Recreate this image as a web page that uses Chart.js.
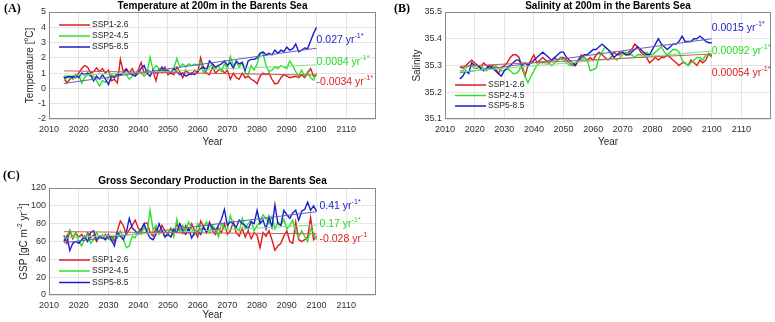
<!DOCTYPE html>
<html lang="en">
<head>
<meta charset="UTF-8">
<title>Barents Sea projections</title>
<script src="https://cdn.jsdelivr.net/npm/chart.js"></script>
<style>
  body { margin: 0; background: #fff; }
  #wrap { position: relative; width: 775px; height: 322px; overflow: hidden; }
  canvas { position: absolute; }
</style>
</head>
<body>
<div id="wrap">
  <canvas id="chartA" width="390" height="160" style="left:0;top:0"></canvas>
  <canvas id="chartB" width="385" height="160" style="left:390px;top:0"></canvas>
  <canvas id="chartC" width="390" height="162" style="left:0;top:160px"></canvas>
</div>

<script>
// years 2015..2100 and decade ticks
const years = Array.from({ length: 86 }, (_, i) => 2015 + i);
const xTicks = [2010, 2020, 2030, 2040, 2050, 2060, 2070, 2080, 2090, 2100, 2110];
const scenarios = ['SSP1-2.6', 'SSP2-4.5', 'SSP5-8.5'];

// (A) temperature at 200 m, degC
const tempSSP126 = [
  0.8, 0.35, 0.6, 0.8, 0.7, 1.0, 1.3, 1.5, 1.4, 1.0,
  1.1, 1.35, 1.1, 1.3, 1.0, 1.2, 0.5, 0.6, 0.35, 1.9,
  1.1, 1.3, 1.0, 1.3, 0.9, 1.2, 1.7, 1.0, 1.2, 1.1,
  1.1, 0.5, 1.3, 1.1, 1.4, 0.9, 1.0, 0.9, 1.4, 1.1,
  0.7, 1.2, 1.0, 0.9, 1.2, 1.0, 2.0, 1.3, 1.0, 0.9,
  1.4, 1.0, 1.2, 1.3, 1.0, 1.2, 0.6, 1.0, 0.7, 0.6,
  1.0, 0.7, 0.8, 0.6, 0.5, 0.3, 0.8, 1.0, 0.9, 1.0,
  0.6, 0.3, 0.35, 0.7, 0.9, 0.8, 0.7, 0.75, 0.8, 0.7,
  0.9, 0.7, 1.0, 1.3, 0.8, 0.9
];
const tempSSP245 = [
  0.5, 0.7, 0.75, 0.6, 0.8, 0.9, 0.35, 0.7, 0.9, 0.8,
  0.8, 0.5, 0.15, 0.5, 0.4, 0.7, 0.9, 0.8, 1.0, 0.9,
  1.0, 0.9, 0.6, 0.8, 1.0, 1.1, 1.0, 0.8, 1.0, 2.05,
  1.2, 1.5, 1.3, 1.0, 1.2, 1.1, 1.1, 1.3, 1.95, 1.4,
  1.6, 1.4, 1.6, 1.5, 1.6, 1.5, 1.7, 1.0, 1.3, 1.4,
  1.6, 1.3, 1.5, 1.1, 1.6, 1.3, 2.1, 1.5, 1.7, 1.4,
  1.7, 1.0, 0.9, 1.5, 1.2, 1.6, 2.3, 2.3, 1.5, 1.1,
  1.2, 1.4, 1.3, 1.5, 1.4, 1.3, 1.8, 1.5, 1.1, 0.8,
  1.2, 0.8, 1.1, 0.7, 0.55, 1.0
];
const tempSSP585 = [
  0.7, 0.75, 0.8, 0.7, 0.9, 0.7, 1.0, 0.9, 1.0, 0.9,
  0.5, 0.8, 0.6, 0.9, 0.6, 0.25, 0.8, 0.7, 0.9, 0.9,
  1.0, 1.25, 1.0, 0.9, 0.8, 1.0, 1.3, 1.5, 1.0, 0.8,
  1.2, 1.0, 1.1, 1.4, 1.1, 1.2, 1.0, 1.3, 1.1, 0.9,
  1.0, 0.8, 0.9, 1.0, 0.9, 1.1, 1.3, 1.4, 1.2, 1.8,
  1.6, 1.4, 1.5, 1.6, 1.8, 1.5, 1.7, 1.3, 1.8, 1.6,
  1.7, 1.2, 1.8, 1.9, 1.9, 2.0, 2.3, 2.4, 2.2, 2.3,
  2.2, 2.5, 2.3, 2.5, 2.4, 2.7, 2.5, 2.6, 2.9, 2.4,
  2.5, 2.65, 2.6, 3.1, 3.6, 4.0
];
// fitted trend, value at 2015 and at 2100
const tempTrendStart = [1.15, 0.83, 0.33];
const tempTrendEnd = [0.87, 1.54, 2.63];
const tempSlopes = ['-0.0034', '0.0084', '0.027'];
const tempSignif = [true, true, true];

// (B) salinity at 200 m
const salSSP126 = [
  35.295, 35.29, 35.30, 35.31, 35.32, 35.31, 35.30, 35.29, 35.31, 35.30,
  35.29, 35.30, 35.29, 35.27, 35.29, 35.30, 35.31, 35.33, 35.34, 35.34,
  35.33, 35.29, 35.26, 35.30, 35.32, 35.34, 35.31, 35.32, 35.33, 35.32,
  35.31, 35.32, 35.33, 35.32, 35.33, 35.33, 35.32, 35.31, 35.30, 35.30,
  35.32, 35.34, 35.33, 35.32, 35.33, 35.32, 35.34, 35.35, 35.34, 35.33,
  35.32, 35.33, 35.35, 35.34, 35.34, 35.35, 35.34, 35.35, 35.36, 35.38,
  35.37, 35.35, 35.34, 35.33, 35.31, 35.32, 35.33, 35.32, 35.33, 35.33,
  35.34, 35.33, 35.32, 35.31, 35.30, 35.31, 35.31, 35.30, 35.32, 35.31,
  35.30, 35.32, 35.31, 35.32, 35.345, 35.335
];
const salSSP245 = [
  35.28, 35.28, 35.29, 35.30, 35.30, 35.29, 35.29, 35.30, 35.29, 35.28,
  35.29, 35.29, 35.30, 35.29, 35.28, 35.28, 35.29, 35.28, 35.27, 35.27,
  35.28, 35.31, 35.26, 35.235, 35.26, 35.28, 35.30, 35.31, 35.31, 35.31,
  35.31, 35.30, 35.31, 35.32, 35.33, 35.32, 35.31, 35.30, 35.30, 35.31,
  35.32, 35.32, 35.33, 35.32, 35.28, 35.285, 35.29, 35.33, 35.35, 35.37,
  35.36, 35.34, 35.33, 35.32, 35.33, 35.34, 35.35, 35.34, 35.34, 35.33,
  35.34, 35.34, 35.33, 35.35, 35.34, 35.34, 35.35, 35.36, 35.37, 35.35,
  35.34, 35.35, 35.36, 35.36, 35.35, 35.32, 35.31, 35.30, 35.31, 35.32,
  35.33, 35.33, 35.32, 35.34, 35.34, 35.33
];
const salSSP585 = [
  35.25, 35.26, 35.28, 35.27, 35.31, 35.30, 35.30, 35.29, 35.28, 35.29,
  35.30, 35.29, 35.28, 35.27, 35.26, 35.28, 35.29, 35.30, 35.31, 35.32,
  35.32, 35.30, 35.31, 35.30, 35.31, 35.32, 35.33, 35.34, 35.35, 35.34,
  35.33, 35.32, 35.33, 35.34, 35.35, 35.35, 35.33, 35.32, 35.31, 35.30,
  35.32, 35.33, 35.34, 35.34, 35.35, 35.36, 35.36, 35.37, 35.38, 35.37,
  35.36, 35.35, 35.33, 35.34, 35.35, 35.35, 35.34, 35.34, 35.35, 35.36,
  35.37, 35.36, 35.35, 35.34, 35.34, 35.36, 35.38, 35.40, 35.38, 35.37,
  35.36, 35.37, 35.38, 35.38, 35.39, 35.41, 35.39, 35.39, 35.39, 35.40,
  35.40, 35.41, 35.40, 35.39, 35.385, 35.385
];
const salTrendStart = [35.297, 35.276, 35.273];
const salTrendEnd = [35.343, 35.354, 35.400];
const salSlopes = ['0.00054', '0.00092', '0.0015'];
const salSignif = [true, true, true];

// (C) gross secondary production, gC m-2 yr-1
const gspSSP126 = [
  67, 58, 72, 63, 70, 65, 68, 62, 70, 64,
  67, 60, 66, 64, 68, 63, 66, 60, 72, 83,
  78, 68, 73, 78, 84, 75, 72, 80, 81, 70,
  66, 75, 70, 78, 72, 68, 75, 70, 80, 72,
  69, 78, 70, 80, 72, 65, 83, 77, 70, 82,
  72, 68, 75, 70, 80, 68, 72, 82, 70, 66,
  75, 65, 72, 63, 70, 67, 53, 70, 66, 72,
  62, 50, 55, 58, 66, 72, 60, 58, 82, 62,
  60, 62, 65, 87, 62, 66
];
const gspSSP245 = [
  62, 66, 73, 65, 70, 60, 55, 63, 68, 58,
  62, 70, 64, 68, 62, 65, 60, 66, 64, 72,
  63, 53, 55, 66, 64, 72, 68, 76, 70, 95,
  73, 78, 68, 72, 66, 70, 74, 65, 85, 70,
  78, 72, 82, 74, 68, 80, 73, 77, 82, 70,
  78, 74, 65, 80, 76, 73, 89, 78, 75, 72,
  86, 74, 80, 84, 72, 78, 82, 90, 86, 80,
  88, 74, 82, 78, 85, 74, 78, 84, 70, 65,
  72, 66, 60, 74, 70, 62
];
const gspSSP585 = [
  60, 66, 50, 58, 60, 58, 62, 66, 60, 70,
  72, 62, 66, 64, 62, 68, 62, 55, 70, 66,
  62, 70, 86, 75, 72, 68, 74, 80, 70, 64,
  62, 68, 80, 72, 65, 68, 65, 74, 70, 80,
  72, 68, 74, 64, 70, 72, 68, 76, 70, 80,
  75, 72, 78, 85, 96, 78, 82, 80, 76, 84,
  80, 78, 74, 82, 80, 95, 80, 84, 74, 88,
  76, 101, 80, 78, 95, 90, 86, 92, 95, 84,
  94, 96, 104, 95, 100, 94
];
const gspTrendStart = [71, 64, 58.5];
const gspTrendEnd = [68.6, 78.5, 93.4];
const gspSlopes = ['-0.028', '0.17', '0.41'];
const gspSignif = [false, true, true];

const FONT = '"Liberation Sans", Arial, sans-serif';
const lineColors = ['#e01b1b', '#2ee02e', '#1c1cd0'];
const trendColors = ['#c85a5a', '#7de07d', '#6262b4'];
const labelColors = ['#dd2020', '#22dd22', '#2424c8'];

// draw text with superscript parts, parts starting with ^ are raised
function richWidth(ctx, parts, size) {
  let w = 0;
  parts.forEach(p => {
    const sup = p.startsWith('^');
    ctx.font = (sup ? size * 0.68 : size) + 'px ' + FONT;
    w += ctx.measureText(sup ? p.slice(1) : p).width;
  });
  return w;
}
function drawRich(ctx, parts, x, y, size) {
  let cx = x;
  parts.forEach(p => {
    const sup = p.startsWith('^');
    const t = sup ? p.slice(1) : p;
    ctx.font = (sup ? size * 0.68 : size) + 'px ' + FONT;
    ctx.fillText(t, cx, sup ? y - size * 0.38 : y);
    cx += ctx.measureText(t).width;
  });
}

const panelText = {
  id: 'panelText',
  afterDraw(chart, args, o) {
    const ctx = chart.ctx;
    const a = chart.chartArea;
    const xs = chart.scales.x, ys = chart.scales.y;
    ctx.save();
    ctx.strokeStyle = '#8a8a8a';
    ctx.lineWidth = 1;
    ctx.strokeRect(Math.round(a.left) + 0.5, Math.round(a.top) + 0.5,
      Math.round(a.right - a.left) - 1, Math.round(a.bottom - a.top) - 1);

    ctx.textBaseline = 'middle';
    ctx.fillStyle = '#000';
    ctx.textAlign = 'center';
    ctx.font = 'bold 10px ' + FONT;
    ctx.fillText(o.title, (a.left + a.right) / 2, o.titleY);

    ctx.textAlign = 'left';
    ctx.font = 'bold 12px "Liberation Serif", "Times New Roman", serif';
    ctx.fillText(o.letter, o.letterX, o.letterY);

    ctx.fillStyle = '#262626';
    ctx.textAlign = 'center';
    ctx.font = '10px ' + FONT;
    ctx.fillText('Year', (a.left + a.right) / 2, o.yearY);

    // y axis title, rotated
    ctx.save();
    ctx.translate(o.yTitleX, (a.top + a.bottom) / 2);
    ctx.rotate(-Math.PI / 2);
    ctx.textAlign = 'left';
    const w = richWidth(ctx, o.yTitle, 10);
    drawRich(ctx, o.yTitle, -w / 2, 0, 10);
    ctx.restore();

    // legend, no box
    ctx.textAlign = 'left';
    scenarios.forEach((name, i) => {
      const y = o.legendY[i];
      ctx.strokeStyle = lineColors[i];
      ctx.lineWidth = 1.5;
      ctx.beginPath();
      ctx.moveTo(o.legendX, y);
      ctx.lineTo(o.legendX + 31, y);
      ctx.stroke();
      ctx.fillStyle = '#262626';
      ctx.font = '8.5px ' + FONT;
      ctx.fillText(name, o.legendX + 33, y);
    });

    // slope labels next to the trend ends
    o.slopes.forEach((s, i) => {
      ctx.fillStyle = labelColors[i];
      const parts = [s + ' yr', '^-1'];
      if (o.signif[i]) parts.push('^*');
      drawRich(ctx, parts, xs.getPixelForValue(o.labelX), ys.getPixelForValue(o.labelY[i]), 10.5);
    });
    ctx.restore();
  }
};

function series(vals) {
  return years.map((yr, i) => ({ x: yr, y: vals[i] }));
}

function makePanel(id, vals, tStart, tEnd, cfg) {
  const datasets = [];
  vals.forEach((v, i) => {
    datasets.push({
      data: series(v), borderColor: lineColors[i], borderWidth: 1.4,
      pointRadius: 0, tension: 0, order: 3 - i + 1
    });
  });
  vals.forEach((v, i) => {
    datasets.push({
      data: [{ x: 2015, y: tStart[i] }, { x: 2100, y: tEnd[i] }],
      borderColor: trendColors[i], borderWidth: 1, pointRadius: 0, order: 0
    });
  });

  new Chart(document.getElementById(id), {
    type: 'line',
    data: { datasets },
    options: {
      responsive: false,
      animation: false,
      devicePixelRatio: 1,
      layout: { padding: cfg.pad },
      plugins: { legend: { display: false }, tooltip: { enabled: false }, panelText: cfg },
      scales: {
        x: {
          type: 'linear', min: 2010, max: 2120,
          afterBuildTicks: s => { s.ticks = xTicks.map(v => ({ value: v })); },
          afterFit: s => { s.height = cfg.xh; },
          grid: { color: '#e4e4e4', drawTicks: false },
          border: { display: false },
          ticks: { font: { size: 9, family: FONT }, color: '#303030', padding: 5,
            maxRotation: 0, autoSkip: false, callback: v => String(v) }
        },
        y: {
          min: cfg.yTicks[0], max: cfg.yTicks[cfg.yTicks.length - 1],
          afterBuildTicks: s => { s.ticks = cfg.yTicks.map(v => ({ value: v })); },
          afterFit: s => { s.width = cfg.yw; },
          grid: { color: '#e4e4e4', drawTicks: false },
          border: { display: false },
          ticks: { font: { size: 9, family: FONT }, color: '#303030', padding: 3,
            autoSkip: false, callback: v => cfg.fmt(v) }
        }
      }
    },
    plugins: [panelText]
  });
}

makePanel('chartA', [tempSSP126, tempSSP245, tempSSP585], tempTrendStart, tempTrendEnd, {
  pad: { left: 0, top: 12, right: 14, bottom: 0 }, yw: 49, xh: 41,
  yTicks: [-2, -1, 0, 1, 2, 3, 4, 5], fmt: v => String(v),
  title: 'Temperature at 200m in the Barents Sea', titleY: 6.5,
  letter: '(A)', letterX: 4, letterY: 8.5, yearY: 142,
  yTitle: ['Temperature [', '^o', 'C]'], yTitleX: 30,
  legendX: 59, legendY: [25, 36, 47],
  slopes: tempSlopes, signif: tempSignif, labelX: 2100, labelY: [0.4, 1.75, 3.17]
});

makePanel('chartB', [salSSP126, salSSP245, salSSP585], salTrendStart, salTrendEnd, {
  pad: { left: 0, top: 12, right: 4, bottom: 0 }, yw: 55, xh: 41,
  yTicks: [35.1, 35.2, 35.3, 35.4, 35.5], fmt: v => v.toFixed(1),
  title: 'Salinity at 200m in the Barents Sea', titleY: 6.5,
  letter: '(B)', letterX: 4, letterY: 8.5, yearY: 142,
  yTitle: ['Salinity'], yTitleX: 27,
  legendX: 65, legendY: [85, 95.5, 106],
  slopes: salSlopes, signif: salSignif, labelX: 2100, labelY: [35.273, 35.354, 35.439]
});

makePanel('chartC', [gspSSP126, gspSSP245, gspSSP585], gspTrendStart, gspTrendEnd, {
  pad: { left: 0, top: 28, right: 14, bottom: 0 }, yw: 49, xh: 27,
  yTicks: [0, 20, 40, 60, 80, 100, 120], fmt: v => String(v),
  title: 'Gross Secondary Production in the Barents Sea', titleY: 21,
  letter: '(C)', letterX: 3, letterY: 16, yearY: 155,
  yTitle: ['GSP [gC m', '^-2', ' yr', '^-1', ']'], yTitleX: 24,
  legendX: 59, legendY: [100, 111, 122.5],
  slopes: gspSlopes, signif: gspSignif, labelX: 2101, labelY: [62.8, 79.6, 99.8]
});
</script>
</body>
</html>
